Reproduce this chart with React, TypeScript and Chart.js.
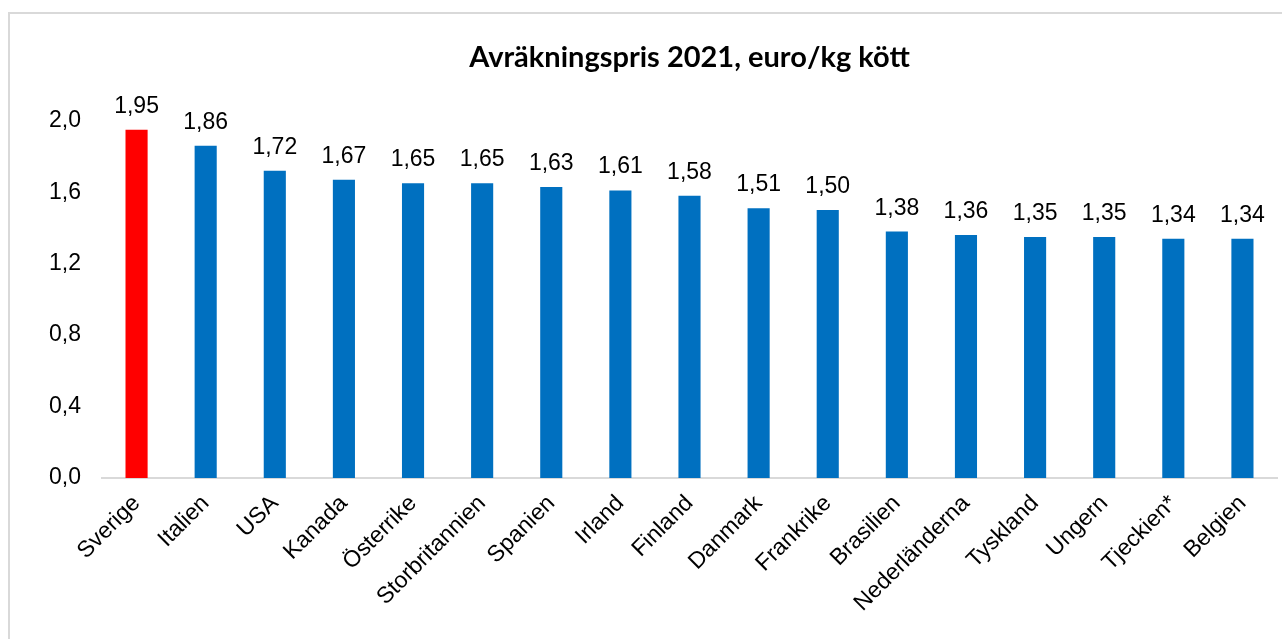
import React, { useEffect, useRef } from "react";
import { Chart, registerables } from "chart.js";

Chart.register(...registerables);

const categories = [
  "Sverige", "Italien", "USA", "Kanada", "Österrike", "Storbritannien", "Spanien",
  "Irland", "Finland", "Danmark", "Frankrike", "Brasilien", "Nederländerna",
  "Tyskland", "Ungern", "Tjeckien*", "Belgien",
];
const prices = [1.95, 1.86, 1.72, 1.67, 1.65, 1.65, 1.63, 1.61, 1.58, 1.51, 1.5, 1.38, 1.36, 1.35, 1.35, 1.34, 1.34];
const yTicks = [0, 0.4, 0.8, 1.2, 1.6, 2.0];
const titleText = "Avräkningspris 2021, euro/kg kött";
const highlight = "Sverige";

const RED = "#FF0000";
const BLUE = "#0070C0";
const FONT = "'Liberation Sans', Arial, sans-serif";

const fmt = (v: number, d: number) => v.toFixed(d).replace(".", ",");

const valueLabels = {
  id: "valueLabels",
  afterDatasetsDraw(chart: any) {
    const ctx = chart.ctx;
    const meta = chart.getDatasetMeta(0);
    ctx.save();
    ctx.font = `23px ${FONT}`;
    ctx.fillStyle = "#000000";
    ctx.textAlign = "center";
    ctx.textBaseline = "alphabetic";
    meta.data.forEach((bar: any, i: number) => {
      const v = chart.data.datasets[0].data[i] as number;
      ctx.fillText(fmt(v, 2), bar.x, bar.y - 17);
    });
    ctx.restore();
  },
};

export default function App() {
  const ref = useRef<HTMLCanvasElement>(null);
  useEffect(() => {
    if (!ref.current) return;
    const chart = new Chart(ref.current, {
      type: "bar",
      data: {
        labels: categories,
        datasets: [
          {
            data: prices,
            backgroundColor: categories.map((c) => (c === highlight ? RED : BLUE)),
            borderWidth: 0,
            barPercentage: 0.32,
            categoryPercentage: 1,
          },
        ],
      },
      options: {
        responsive: false,
        animation: false,
        layout: { padding: { left: 0, right: 5, top: 0, bottom: 0 } },
        plugins: {
          legend: { display: false },
          tooltip: { enabled: false },
          title: {
            display: true,
            text: titleText,
            fullSize: false,
            color: "#000000",
            font: { family: "Lato, 'Open Sans', sans-serif", size: 29, weight: "bold" },
            padding: { top: 40, bottom: 46 },
          },
        },
        scales: {
          x: {
            grid: { display: false, drawTicks: false },
            border: { display: true, color: "#D9D9D9", width: 2 },
            ticks: {
              color: "#000000",
              font: { family: FONT, size: 23 },
              minRotation: 45,
              maxRotation: 45,
              padding: 12,
              autoSkip: false,
            },
            afterFit: (s: any) => {
              s.height = 161;
            },
          },
          y: {
            min: 0,
            max: 2.0,
            grid: { display: false, drawTicks: false },
            border: { display: false },
            afterBuildTicks: (s: any) => {
              s.ticks = yTicks.map((v) => ({ value: v }));
            },
            ticks: {
              color: "#000000",
              font: { family: FONT, size: 23 },
              padding: 21,
              callback: (v: any) => fmt(Number(v), 1),
            },
            afterFit: (s: any) => {
              s.width = 102;
            },
          },
        },
      },
      plugins: [valueLabels],
    });
    return () => chart.destroy();
  }, []);

  return (
    <div style={{ position: "fixed", left: 0, top: 0, width: 1282, height: 639, background: "#fff", overflow: "hidden" }}>
      <div
        style={{
          position: "absolute",
          left: 8,
          top: 12,
          width: 1290,
          height: 700,
          border: "2px solid #D9D9D9",
          boxSizing: "border-box",
        }}
      />
      <canvas ref={ref} width={1282} height={639} style={{ position: "absolute", left: 0, top: 0 }} />
    </div>
  );
}
